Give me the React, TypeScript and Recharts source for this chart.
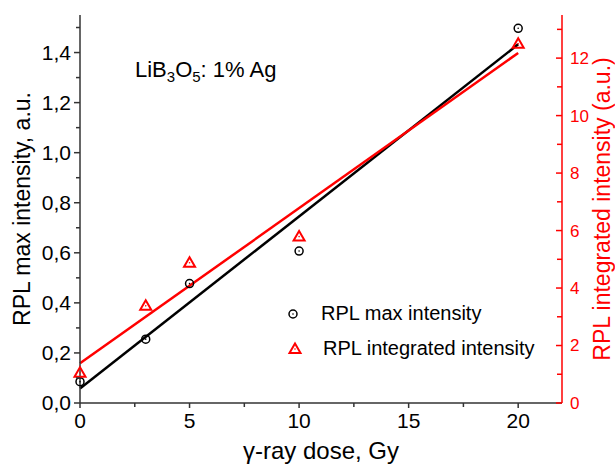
import React from "react"
import { ComposedChart, Line, Scatter, XAxis, YAxis, Legend } from "recharts"

const FONT = '"Liberation Sans", Arial, sans-serif'
const RED = "#ff0000"
const AXIS = "#333333"

// measured points
const doses = [0, 3, 5, 10, 20]
const maxIntensity = [0.085, 0.255, 0.477, 0.607, 1.497]
const integratedIntensity = [1.05, 3.38, 4.88, 5.79, 12.5]

// linear fit end points
const fitDoses = [0, 20]
const maxFit = [0.058, 1.433]
const integratedFit = [1.38, 12.18]

const xTicks = [0, 2.5, 5, 7.5, 10, 12.5, 15, 17.5, 20]
const leftTicks = [0, 0.1, 0.2, 0.3, 0.4, 0.5, 0.6, 0.7, 0.8, 0.9, 1.0, 1.1, 1.2, 1.3, 1.4, 1.5]
const rightTicks = [0, 1, 2, 3, 4, 5, 6, 7, 8, 9, 10, 11, 12, 13]

const maxData = doses.map((x, i) => ({ x, y: maxIntensity[i] }))
const intData = doses.map((x, i) => ({ x, y: integratedIntensity[i] }))
const maxFitData = fitDoses.map((x, i) => ({ x, y: maxFit[i] }))
const intFitData = fitDoses.map((x, i) => ({ x, y: integratedFit[i] }))

const CircleMark = ({ cx, cy }: any) => (
  <g>
    <circle cx={cx} cy={cy} r={4} fill="none" stroke="#000" strokeWidth={1.5} />
    <circle cx={cx} cy={cy} r={0.8} fill="#000" />
  </g>
)

const TriangleMark = ({ cx, cy }: any) => (
  <g>
    <polygon
      points={`${cx},${cy - 5.5} ${cx - 5.5},${cy + 4} ${cx + 5.5},${cy + 4}`}
      fill="none"
      stroke={RED}
      strokeWidth={2}
    />
    <circle cx={cx} cy={cy} r={0.8} fill={RED} />
  </g>
)

const XTick = ({ x, y, payload }: any) => {
  const v = payload.value
  const major = v % 5 === 0
  return (
    <g>
      <line x1={x} x2={x} y1={y} y2={y + (major ? 5 : 4)} stroke={AXIS} strokeWidth={1.5} />
      {major && (
        <text x={x} y={y + 18} dy="0.35em" textAnchor="middle" fontSize={21} fill="#000" fontFamily={FONT}>
          {v}
        </text>
      )}
    </g>
  )
}

const LeftTick = ({ x, y, payload }: any) => {
  const v = payload.value
  const major = Math.round(v * 10) % 2 === 0
  return (
    <g>
      <line x1={x} x2={x - (major ? 6 : 4)} y1={y} y2={y} stroke={AXIS} strokeWidth={1.5} />
      {major && (
        <text x={x - 9} y={y} dy="0.35em" textAnchor="end" fontSize={21} fill="#000" fontFamily={FONT}>
          {v.toFixed(1).replace(".", ",")}
        </text>
      )}
    </g>
  )
}

const RightTick = ({ x, y, payload }: any) => {
  const v = payload.value
  const major = v % 2 === 0
  return (
    <g>
      <line x1={x} x2={x - (major ? 6 : 5)} y1={y} y2={y} stroke={RED} strokeWidth={1.5} />
      {major && (
        <text x={x + 8} y={y} dy="0.35em" textAnchor="start" fontSize={17} fill={RED} fontFamily={FONT}>
          {v}
        </text>
      )}
    </g>
  )
}

const XTitle = ({ viewBox }: any) => (
  <text x={viewBox.x + viewBox.width / 2} y={viewBox.y + 56} textAnchor="middle" fontSize={24} fill="#000" fontFamily={FONT}>
    γ-ray dose, Gy
  </text>
)

const LeftTitle = ({ viewBox }: any) => {
  const cx = viewBox.x + 30
  const cy = viewBox.y + viewBox.height / 2
  return (
    <text x={cx} y={cy} transform={`rotate(-90 ${cx} ${cy})`} textAnchor="middle" fontSize={23} fill="#000" fontFamily={FONT}>
      RPL max intensity, a.u.
    </text>
  )
}

const RightTitle = ({ viewBox }: any) => {
  const cx = viewBox.x + 48
  const cy = viewBox.y + viewBox.height / 2
  return (
    <text x={cx} y={cy} transform={`rotate(-90 ${cx} ${cy})`} textAnchor="middle" fontSize={23} fill={RED} fontFamily={FONT}>
      RPL integrated intensity (a.u.)
    </text>
  )
}

const LegendBox = () => (
  <div style={{ fontFamily: FONT, fontSize: 20, color: "#000" }}>
    <div style={{ display: "flex", alignItems: "center", height: 35 }}>
      <svg width={35} height={20}>
        <CircleMark cx={7} cy={10} />
      </svg>
      <span>RPL max intensity</span>
    </div>
    <div style={{ display: "flex", alignItems: "center", height: 35 }}>
      <svg width={37} height={20}>
        <TriangleMark cx={9} cy={10} />
      </svg>
      <span>RPL integrated intensity</span>
    </div>
  </div>
)

export default function App() {
  return (
    <div style={{ position: "absolute", left: 0, top: 0, width: 615, height: 466, background: "#fff" }}>
      <ComposedChart width={615} height={466} margin={{ top: 15, right: 0, bottom: 0, left: 0 }}>
        <XAxis
          xAxisId="b"
          type="number"
          dataKey="x"
          domain={[0, 22]}
          ticks={xTicks}
          height={63}
          tickSize={0}
          tickMargin={0}
          tickLine={false}
          tick={<XTick />}
          axisLine={{ stroke: AXIS, strokeWidth: 1.5 }}
          label={(p: any) => <XTitle {...p} />}
        />
        <XAxis
          xAxisId="t"
          orientation="top"
          type="number"
          domain={[0, 22]}
          height={0}
          tick={false}
          tickLine={false}
          axisLine={{ stroke: "#444", strokeWidth: 1.5 }}
        />
        <YAxis
          yAxisId="l"
          type="number"
          domain={[0, 1.55]}
          ticks={leftTicks}
          width={80}
          tickSize={0}
          tickMargin={0}
          tickLine={false}
          tick={<LeftTick />}
          axisLine={{ stroke: AXIS, strokeWidth: 1.5 }}
          label={(p: any) => <LeftTitle {...p} />}
        />
        <YAxis
          yAxisId="r"
          orientation="right"
          type="number"
          domain={[0, 13.5]}
          ticks={rightTicks}
          width={53}
          tickSize={0}
          tickMargin={0}
          tickLine={false}
          tick={<RightTick />}
          axisLine={{ stroke: RED, strokeWidth: 1.5 }}
          label={(p: any) => <RightTitle {...p} />}
        />
        <Line
          xAxisId="b"
          yAxisId="l"
          data={maxFitData}
          dataKey="y"
          type="linear"
          stroke="#000"
          strokeWidth={2.5}
          dot={false}
          isAnimationActive={false}
        />
        <Line
          xAxisId="b"
          yAxisId="r"
          data={intFitData}
          dataKey="y"
          type="linear"
          stroke={RED}
          strokeWidth={2.5}
          dot={false}
          isAnimationActive={false}
        />
        <Scatter xAxisId="b" yAxisId="l" data={maxData} dataKey="y" shape={<CircleMark />} isAnimationActive={false} />
        <Scatter xAxisId="b" yAxisId="r" data={intData} dataKey="y" shape={<TriangleMark />} isAnimationActive={false} />
        <Legend
          layout="vertical"
          align="center"
          verticalAlign="middle"
          content={() => <LegendBox />}
          wrapperStyle={{ left: 286, top: 296, width: 280, height: 70 }}
        />
      </ComposedChart>
      <svg width={615} height={466} style={{ position: "absolute", left: 0, top: 0, pointerEvents: "none" }}>
        <text x={135} y={77} fontSize={22} fill="#000" fontFamily={FONT}>
          LiB<tspan dy={5} fontSize={15}>3</tspan>
          <tspan dy={-5}>O</tspan>
          <tspan dy={5} fontSize={15}>5</tspan>
          <tspan dy={-5}>: 1% Ag</tspan>
        </text>
      </svg>
    </div>
  )
}
